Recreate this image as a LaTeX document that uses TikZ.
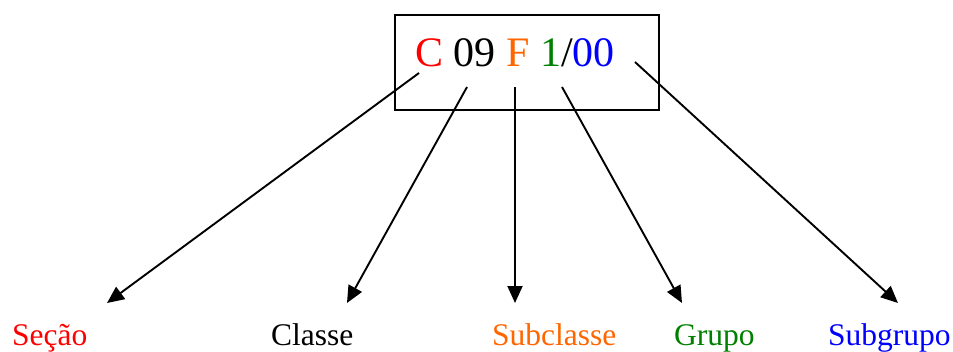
\documentclass[tikz,border=0pt]{standalone}
\usepackage{fontspec}
\setmainfont{Liberation Serif}
\usetikzlibrary{arrows.meta}
\definecolor{cred}{RGB}{255,0,0}
\definecolor{corange}{RGB}{255,102,0}
\definecolor{cgreen}{RGB}{0,128,0}
\definecolor{cblue}{RGB}{0,0,255}
\begin{document}
\begin{tikzpicture}[x=1pt,y=-1pt,
  lbl/.style={anchor=base west,inner sep=0pt,font=\fontsize{31.5}{36}\selectfont},
  conn/.style={line width=1.9pt,-{Triangle[length=17pt,width=15pt]}},
  codebox/.style={draw,line width=2pt,minimum width=264pt,minimum height=95pt,inner sep=0pt}]
\useasboundingbox (0,0) rectangle (953,351);
\node[codebox] (box) at (527,62.5) {};
\node[anchor=base west,inner sep=0pt,font=\fontsize{42}{48}\selectfont] (code) at (415,66)
  {\textcolor{cred}{C} 09 \textcolor{corange}{F} \textcolor{cgreen}{1}/\textcolor{cblue}{00}};
\node[lbl,text=cred] (secao) at (12,345) {Seção};
\node[lbl] (classe) at (271,345) {Classe};
\node[lbl,text=corange] (subclasse) at (492,345) {Subclasse};
\node[lbl,text=cgreen] (grupo) at (674,345) {Grupo};
\node[lbl,text=cblue] (subgrupo) at (828,345) {Subgrupo};
\coordinate (s1) at (419,73);
\coordinate (s2) at (467,87);
\coordinate (s3) at (515,87);
\coordinate (s4) at (562,87);
\coordinate (s5) at (635,62);
\coordinate (e1) at (107,303);
\coordinate (e2) at (347,303);
\coordinate (e3) at (515,303);
\coordinate (e4) at (682,303);
\coordinate (e5) at (898,303);
\draw[conn] (s1) -- (e1);
\draw[conn] (s2) -- (e2);
\draw[conn] (s3) -- (e3);
\draw[conn] (s4) -- (e4);
\draw[conn] (s5) -- (e5);
\end{tikzpicture}
\end{document}
